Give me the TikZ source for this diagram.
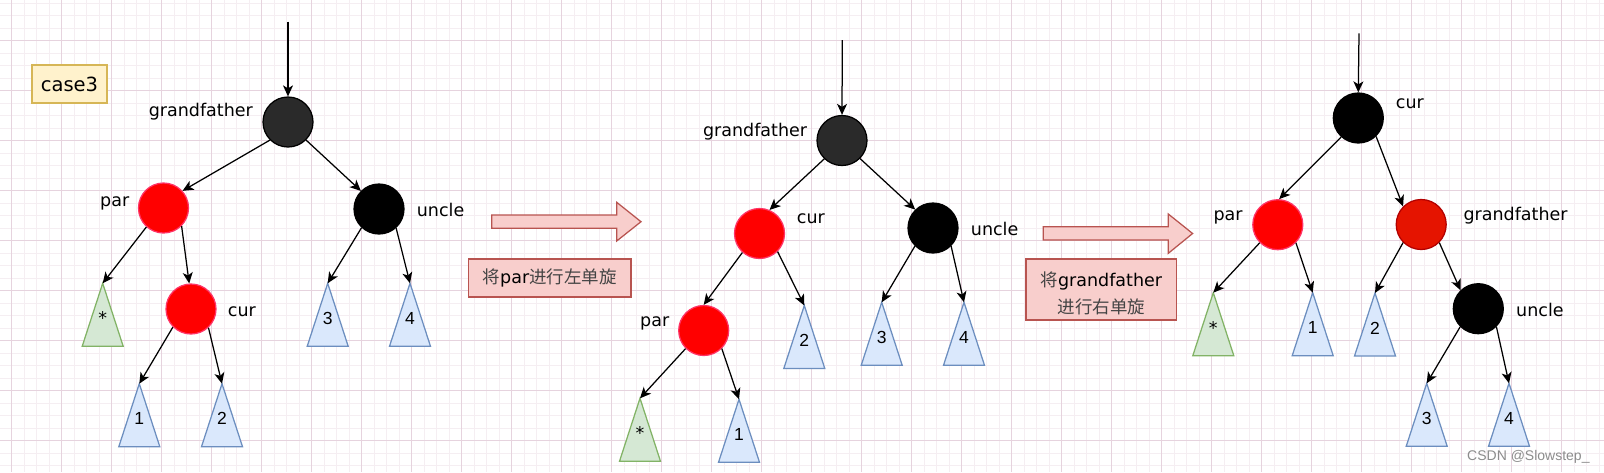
\documentclass[tikz,border=0pt]{standalone}
\usepackage{fontspec}
\setmainfont{DejaVu Sans}
\newfontfamily\lab{DejaVu Sans}
\newfontfamily\num{Liberation Sans}
\newfontfamily\cjk{Noto Sans CJK SC}
\usetikzlibrary{arrows.meta}
\definecolor{gmajor}{HTML}{E6D3DE}
\definecolor{gminor}{HTML}{F5EEF2}
\definecolor{blk}{HTML}{2A2A2A}
\definecolor{rednode}{HTML}{FF0000}
\definecolor{redline}{HTML}{FF3366}
\definecolor{gfred}{HTML}{E51400}
\definecolor{gfredline}{HTML}{B20000}
\definecolor{bluefill}{HTML}{DAE8FC}
\definecolor{blueline}{HTML}{6C8EBF}
\definecolor{greenfill}{HTML}{D5E8D4}
\definecolor{greenline}{HTML}{82B366}
\definecolor{pinkfill}{HTML}{F8CECC}
\definecolor{pinkline}{HTML}{B85450}
\definecolor{yelfill}{HTML}{FFF2CC}
\definecolor{yelline}{HTML}{D6B656}
\definecolor{cjkgray}{HTML}{444444}
\tikzset{
  rb/.style={circle, minimum size=50pt, inner sep=0pt, line width=1.25pt},
  blacknode/.style={rb, fill=black, draw=black},
  darknode/.style={rb, fill=blk, draw=black},
  rednd/.style={rb, fill=rednode, draw=redline},
  gfrednd/.style={rb, fill=gfred, draw=gfredline},
  conn/.style={line width=1.25pt, -{Stealth[length=11pt,width=10pt,inset=3pt]}},
  lbl/.style={inner sep=0pt, font=\lab\fontsize{17.5}{20}\selectfont},
  trilbl/.style={inner sep=0pt, font=\num\fontsize{17.5}{20}\selectfont},
  bluetri/.style={fill=bluefill, draw=blueline, line width=1.25pt},
  greentri/.style={fill=greenfill, draw=greenline, line width=1.25pt},
  pinkarrow/.style={fill=pinkfill, draw=pinkline, line width=1.25pt},
  pinkbox/.style={rectangle, fill=pinkfill, draw=pinkline, line width=1.25pt, inner sep=0pt},
  yelbox/.style={rectangle, fill=yelfill, draw=yelline, line width=1.25pt, inner sep=0pt},
  boxtext/.style={inner sep=0pt, align=center, font=\fontsize{17.5}{27.7}\selectfont},
  gminorline/.style={draw=gminor, line width=1pt},
  gmajorline/.style={draw=gmajor, line width=1pt}
}
\newcommand\mytri[5]{%
  \draw[#5] (#2,#3) -- ++(20.5,63) -- ++(-41,0) -- cycle;
  \coordinate (#1) at (#2,#3);
  \node[trilbl] (#1l) at (#2,#3+35) {#4};
}
\begin{document}
\begin{tikzpicture}[x=1pt,y=-1pt]
\useasboundingbox (0,0) rectangle (1604,472);
\fill[white] (0,0) rectangle (1604,472);
% grid
\foreach \i in {0,...,128} \draw[gminorline] ({-0.8+12.5*\i},0) -- ({-0.8+12.5*\i},472);
\foreach \j in {0,...,37} \draw[gminorline] (0,{3.2+12.5*\j}) -- (1604,{3.2+12.5*\j});
\foreach \i in {0,...,31} \draw[gmajorline] ({11.7+50*\i},0) -- ({11.7+50*\i},472);
\foreach \j in {0,...,8} \draw[gmajorline] (0,{40.7+50*\j}) -- (1604,{40.7+50*\j});

% case3 label
\node[yelbox, minimum width=75pt, minimum height=38pt, font=\lab\fontsize{19.5}{22}\selectfont] (case) at (69.5,84) {case3};

% ---------- tree 1 ----------
\node[darknode] (gfA) at (288,122) {};
\node[rednd] (parA) at (163.5,208) {};
\node[rednd] (curA) at (191,309) {};
\node[blacknode] (uncA) at (379,209) {};
\coordinate (topA) at (288,21.7);
\node[lbl, anchor=base east] (gfAl) at (253,116.7) {grandfather};
\node[lbl, anchor=base west] (parAl) at (100,206.7) {par};
\node[lbl, anchor=base west] (curAl) at (227.7,316) {cur};
\node[lbl, anchor=base west] (uncAl) at (416.7,216) {uncle};
\mytri{starA}{102.7}{283.3}{\lab *}{greentri}
\mytri{oneA}{139.3}{383.7}{1}{bluetri}
\mytri{twoA}{222}{383.7}{2}{bluetri}
\mytri{threeA}{327.7}{283.3}{3}{bluetri}
\mytri{fourA}{410}{283.3}{4}{bluetri}
\draw[conn] (topA) -- (gfA.north);
\draw[conn] (gfA.225) -- (parA.42);
\draw[conn] (gfA.315) -- (uncA.135);
\draw[conn] (parA.228) -- (starA);
\draw[conn] (parA.315) -- (curA.94);
\draw[conn] (curA.225) -- (oneA);
\draw[conn] (curA.313) -- (twoA);
\draw[conn] (uncA.227) -- (threeA);
\draw[conn] (uncA.312) -- (fourA);

% arrow 1 and its box
\draw[pinkarrow] (491.7,215) -- (616.7,215) -- (616.7,202.3) -- (641,221.7) -- (616.7,241) -- (616.7,228.3) -- (491.7,228.3) -- cycle;
\node[pinkbox, minimum width=162.7pt, minimum height=38pt] (boxA) at (549.7,278) {};
\node[boxtext] (boxAt) at (549.7,278) {{\cjk\color{cjkgray}将}{\lab par}{\cjk\color{cjkgray}进行左单旋}};

% ---------- tree 2 ----------
\node[darknode] (gfB) at (842,140.5) {};
\node[rednd] (curB) at (759.5,233.5) {};
\node[blacknode] (uncB) at (933,228) {};
\node[rednd] (parB) at (703.7,330.5) {};
\coordinate (topB) at (842.3,40);
\node[lbl, anchor=base east] (gfBl) at (807.3,136.7) {grandfather};
\node[lbl, anchor=base west] (curBl) at (796.7,223.3) {cur};
\node[lbl, anchor=base west] (uncBl) at (970.7,235.7) {uncle};
\node[lbl, anchor=base west] (parBl) at (640,326.7) {par};
\mytri{starB}{640}{398.3}{\lab *}{greentri}
\mytri{oneB}{739}{399.3}{1}{bluetri}
\mytri{twoB}{804.3}{305.5}{2}{bluetri}
\mytri{threeB}{881.7}{302.3}{3}{bluetri}
\mytri{fourB}{964}{302.3}{4}{bluetri}
\draw[conn] (topB) -- (gfB.north);
\draw[conn] (gfB.226) -- (curB.67);
\draw[conn] (gfB.315) -- (uncB.134);
\draw[conn] (curB.228) -- (parB.north);
\draw[conn] (curB.315) -- (twoB);
\draw[conn] (uncB.225) -- (threeB);
\draw[conn] (uncB.315) -- (fourB);
\draw[conn] (parB.225) -- (starB);
\draw[conn] (parB.315) -- (oneB);

% arrow 2 and its box
\draw[pinkarrow] (1043.3,226.7) -- (1168.3,226.7) -- (1168.3,214) -- (1192.6,233.5) -- (1168.3,253.3) -- (1168.3,240) -- (1043.3,240) -- cycle;
\node[pinkbox, minimum width=150.7pt, minimum height=61pt] (boxB) at (1101.3,289.5) {};
\node[boxtext] (boxBt) at (1101.3,293.5) {{\cjk\color{cjkgray}将}{\lab grandfather}\\{\cjk\color{cjkgray}进行右单旋}};

% ---------- tree 3 ----------
\node[blacknode] (curC) at (1358.3,118) {};
\node[rednd] (parC) at (1277.8,224.7) {};
\node[gfrednd] (gfC) at (1421.2,224.5) {};
\node[blacknode] (uncC) at (1478.3,308.7) {};
\coordinate (topC) at (1359,33.3);
\node[lbl, anchor=base west] (curCl) at (1395.7,108.3) {cur};
\node[lbl, anchor=base west] (gfCl) at (1463.3,220) {grandfather};
\node[lbl, anchor=base west] (parCl) at (1213.3,220.7) {par};
\node[lbl, anchor=base west] (uncCl) at (1516,316.7) {uncle};
\mytri{starC}{1213.3}{292.7}{\lab *}{greentri}
\mytri{oneC}{1312.7}{292.7}{1}{bluetri}
\mytri{twoC}{1375}{293}{2}{bluetri}
\mytri{threeC}{1426.7}{383.3}{3}{bluetri}
\mytri{fourC}{1509}{383.3}{4}{bluetri}
\draw[conn] (topC) -- (curC.north);
\draw[conn] (curC.228) -- (parC.87);
\draw[conn] (curC.314) -- (gfC.135);
\draw[conn] (parC.225) -- (starC);
\draw[conn] (parC.315) -- (oneC);
\draw[conn] (gfC.225) -- (twoC);
\draw[conn] (gfC.315) -- (uncC.134);
\draw[conn] (uncC.225) -- (threeC);
\draw[conn] (uncC.315) -- (fourC);

% watermark
\node[anchor=base west, inner sep=0pt, text=black!45, font=\num\fontsize{14}{16}\selectfont] (wm) at (1467,460) {CSDN @Slowstep\_};
\end{tikzpicture}
\end{document}
